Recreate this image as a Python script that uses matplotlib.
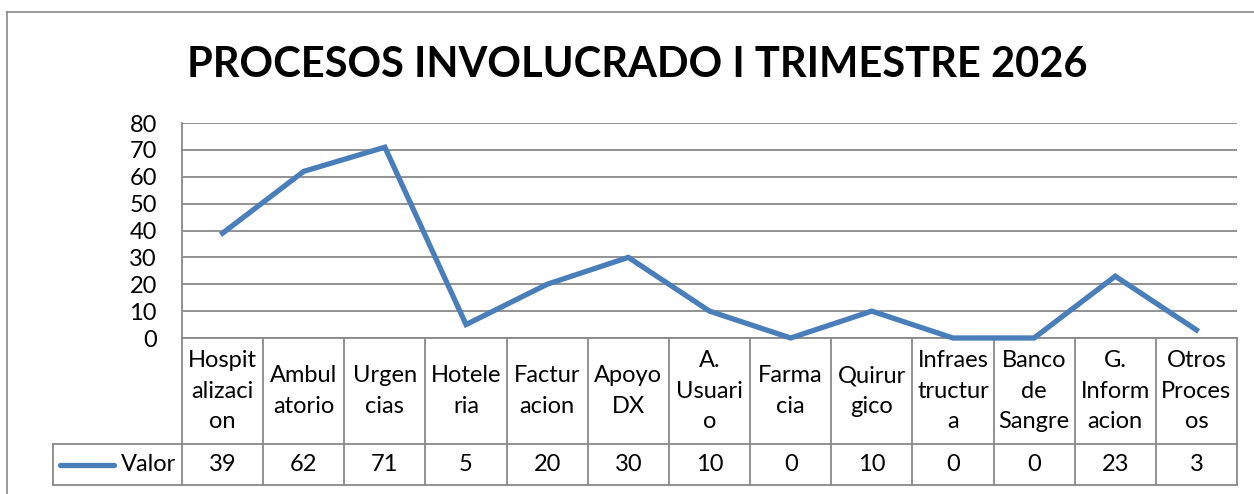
import matplotlib
matplotlib.use("Agg")
import matplotlib.pyplot as plt
from matplotlib import transforms
import numpy as np

plt.rcParams['font.family'] = ['Lato', 'DejaVu Sans']

# datos
procesos = ["Hospitalizacion", "Ambulatorio", "Urgencias", "Hoteleria", "Facturacion",
            "Apoyo DX", "A. Usuario", "Farmacia", "Quirurgico", "Infraestructura",
            "Banco de Sangre", "G. Informacion", "Otros Procesos"]
etiquetas = ["Hospit\nalizaci\non", "Ambul\natorio", "Urgen\ncias", "Hotele\nria",
             "Factur\nacion", "Apoyo\nDX", "A.\nUsuari\no", "Farma\ncia", "Quirur\ngico",
             "Infraes\ntructur\na", "Banco\nde\nSangre", "G.\nInform\nacion", "Otros\nProces\nos"]
valor = [39, 62, 71, 5, 20, 30, 10, 0, 10, 0, 0, 23, 3]
yticks = [0, 10, 20, 30, 40, 50, 60, 70, 80]

W, H = 1254, 494
fig = plt.figure(figsize=(W / 100, H / 100), dpi=100)

# area del grafico en pixeles
x0, x1 = 182, 1237
ytop, ybot = 123, 338
ax = fig.add_axes([x0 / W, 1 - ybot / H, (x1 - x0) / W, (ybot - ytop) / H])

gris = "#898989"
azul = "#4A7EBB"
fs = 17
n = len(valor)
x = np.arange(n)

ax.plot(x, valor, color=azul, lw=3.8, solid_joinstyle="miter", clip_on=False, zorder=3)
ax.set_xlim(-0.5, n - 0.5)
ax.set_ylim(0, 80)
ax.set_yticks(yticks)
ax.set_yticklabels([str(v) for v in yticks], fontsize=fs)
ax.tick_params(axis="y", length=0, pad=18)
ax.set_xticks([])
ax.grid(axis="y", color=gris, lw=1.3)
ax.set_axisbelow(True)
for s in ["top", "right", "bottom"]:
    ax.spines[s].set_visible(False)
ax.spines["left"].set_color(gris)
ax.spines["left"].set_linewidth(1.3)

# tabla de datos debajo
tr = transforms.blended_transform_factory(ax.transData, ax.transAxes)
ph = ybot - ytop
r1 = -(444 - ybot) / ph
r2 = -(485 - ybot) / ph
leg_x = -0.5 + (53 - x0) / ((x1 - x0) / n)
kw = dict(color=gris, lw=1.3, transform=tr, clip_on=False)
ax.plot([-0.5, n - 0.5], [0, 0], **kw)
ax.plot([leg_x, n - 0.5], [r1, r1], **kw)
ax.plot([leg_x, n - 0.5], [r2, r2], **kw)
ax.plot([leg_x, leg_x], [r1, r2], **kw)
for i in range(n + 1):
    ax.plot([i - 0.5, i - 0.5], [0, r2], **kw)

for i in range(n):
    ax.text(x[i], r1 / 2, etiquetas[i], transform=tr, ha="center", va="center",
            fontsize=fs, linespacing=1.55)
    ax.text(x[i], (r1 + r2) / 2, str(valor[i]), transform=tr, ha="center", va="center",
            fontsize=fs)

# leyenda dentro de la tabla
lx = leg_x + 0.09
ax.plot([lx, lx + 0.66], [(r1 + r2) / 2] * 2, color=azul, lw=3.8, transform=tr,
        clip_on=False, solid_capstyle="round")
ax.text(-0.57, (r1 + r2) / 2, "Valor", transform=tr, ha="right", va="center", fontsize=fs)

fig.text(0.508, 1 - 65 / H, "PROCESOS INVOLUCRADO I TRIMESTRE 2026", ha="center",
         va="center", fontsize=30, fontweight="bold")

# marco exterior
fig.add_artist(plt.Line2D([7 / W, 7 / W], [0, 1 - 12 / H], color=gris, lw=1.2,
                          transform=fig.transFigure))
fig.add_artist(plt.Line2D([7 / W, 1], [1 - 12 / H, 1 - 12 / H], color=gris, lw=1.2,
                          transform=fig.transFigure))

fig.savefig("out.png", dpi=100)
plt.close()
